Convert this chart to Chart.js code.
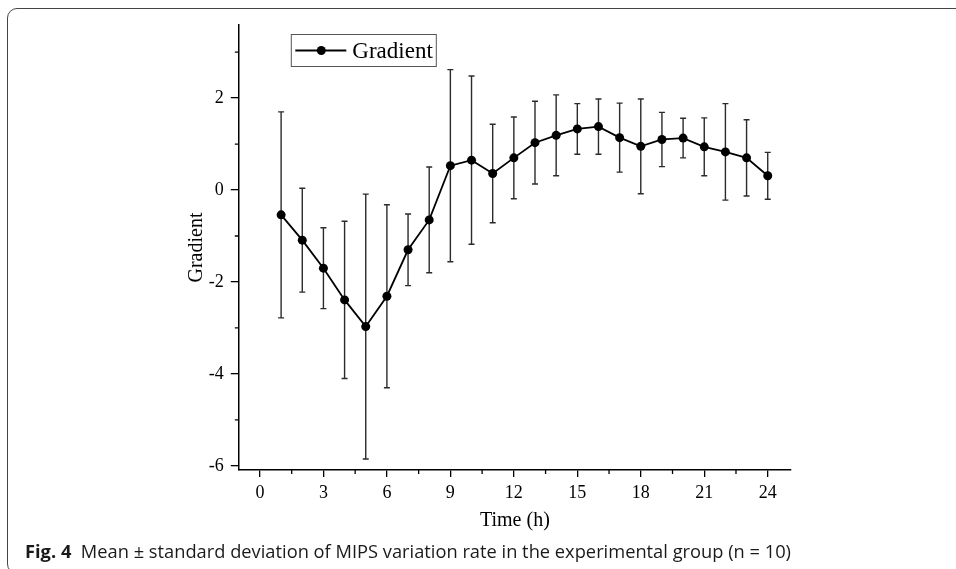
<!DOCTYPE html>
<html>
<head>
<meta charset="utf-8">
<script src="https://cdn.jsdelivr.net/npm/chart.js@4/dist/chart.umd.min.js"></script>
<style>
html,body{margin:0;padding:0;width:956px;height:569px;overflow:hidden;background:#fff;}
#wrap{position:relative;width:956px;height:569px;overflow:hidden;}
#frame{position:absolute;left:7px;top:8px;width:1000px;height:566px;border:1.6px solid #454545;border-radius:10px;box-sizing:border-box;}
#chart{position:absolute;left:0;top:0;}
#caption{position:absolute;left:25px;top:541px;font-family:"Open Sans","Noto Sans",sans-serif;font-size:17.5px;line-height:20px;white-space:nowrap;color:#1a1a1a;transform-origin:0 0;}
#caption b{font-weight:700;}
</style>
</head>
<body>
<div id="wrap">
  <div id="frame"></div>
  <canvas id="chart" width="956" height="569"></canvas>
  <div id="caption"><b>Fig. 4</b>&nbsp; Mean ± standard deviation of MIPS variation rate in the experimental group (n = 10)</div>
</div>
<script>
// ---- data ----
const timeHours = [1,2,3,4,5,6,7,8,9,10,11,12,13,14,15,16,17,18,19,20,21,22,23,24];
const gradientMean = [-0.54,-1.09,-1.70,-2.39,-2.97,-2.31,-1.30,-0.65,0.53,0.65,0.36,0.70,1.03,1.19,1.33,1.38,1.14,0.95,1.10,1.13,0.94,0.83,0.70,0.31];
const gradientSD = [2.24,1.13,0.88,1.71,2.88,1.99,0.78,1.15,2.09,1.83,1.07,0.89,0.90,0.88,0.55,0.60,0.75,1.03,0.59,0.43,0.63,1.05,0.83,0.51];
const xMajorTicks = [0,3,6,9,12,15,18,21,24];
const xMinorTicks = [1.5,4.5,7.5,10.5,13.5,16.5,19.5,22.5];
const yMajorTicks = [-6,-4,-2,0,2];
const yMinorTicks = [-5,-3,-1,1,3];
const seriesName = 'Gradient';
const xTitle = 'Time (h)';
const yTitle = 'Gradient';

// ---- plugins ----
const errorBarPlugin = {
  id: 'errorBars',
  beforeDatasetsDraw(chart) {
    const {ctx, scales: {x, y}} = chart;
    ctx.save();
    ctx.strokeStyle = '#2b2b2b';
    ctx.lineWidth = 1.4;
    timeHours.forEach((t, i) => {
      const px = x.getPixelForValue(t);
      const top = y.getPixelForValue(gradientMean[i] + gradientSD[i]);
      const bot = y.getPixelForValue(gradientMean[i] - gradientSD[i]);
      ctx.beginPath();
      ctx.moveTo(px, top); ctx.lineTo(px, bot);
      ctx.moveTo(px - 3, top); ctx.lineTo(px + 3, top);
      ctx.moveTo(px - 3, bot); ctx.lineTo(px + 3, bot);
      ctx.stroke();
    });
    ctx.restore();
  }
};

const minorTickPlugin = {
  id: 'minorTicks',
  afterDraw(chart) {
    const {ctx, scales: {x, y}, chartArea} = chart;
    ctx.save();
    ctx.strokeStyle = '#000';
    ctx.lineWidth = 1.3;
    ctx.beginPath();
    yMinorTicks.forEach(v => {
      const py = y.getPixelForValue(v);
      ctx.moveTo(chartArea.left - 4, py); ctx.lineTo(chartArea.left, py);
    });
    xMinorTicks.forEach(v => {
      const px = x.getPixelForValue(v);
      ctx.moveTo(px, chartArea.bottom); ctx.lineTo(px, chartArea.bottom + 4);
    });
    ctx.stroke();
    ctx.restore();
  }
};

const boxLegendPlugin = {
  id: 'boxLegend',
  afterDraw(chart) {
    const {ctx, chartArea} = chart;
    const bx = chartArea.left + 52.5, by = chartArea.top + 9.5;
    const bw = 145, bh = 32;
    const cy = by + bh / 2;
    ctx.save();
    ctx.strokeStyle = '#555';
    ctx.lineWidth = 1;
    ctx.strokeRect(bx, by, bw, bh);
    ctx.strokeStyle = '#000';
    ctx.lineWidth = 1.8;
    ctx.beginPath();
    ctx.moveTo(bx + 4, cy); ctx.lineTo(bx + 55, cy);
    ctx.stroke();
    ctx.fillStyle = '#000';
    ctx.beginPath();
    ctx.arc(bx + 30, cy, 4.5, 0, Math.PI * 2);
    ctx.fill();
    ctx.font = '23px "Liberation Serif", "Times New Roman", serif';
    ctx.textBaseline = 'middle';
    ctx.fillText(chart.data.datasets[0].label, bx + 61, cy + 1);
    ctx.restore();
  }
};

const serif = '"Liberation Serif", "Times New Roman", serif';

new Chart(document.getElementById('chart'), {
  type: 'line',
  data: {
    datasets: [{
      label: seriesName,
      data: timeHours.map((t, i) => ({x: t, y: gradientMean[i]})),
      borderColor: '#000',
      borderWidth: 1.8,
      pointRadius: 4.5,
      pointBackgroundColor: '#000',
      pointBorderColor: '#000',
      pointBorderWidth: 0,
      tension: 0,
      clip: false
    }]
  },
  options: {
    responsive: false,
    animation: false,
    devicePixelRatio: 1,
    layout: {padding: {left: 185, top: 25, right: 165, bottom: 36}},
    plugins: {legend: {display: false}, tooltip: {enabled: false}},
    scales: {
      x: {
        type: 'linear',
        min: -1,
        max: 25.1,
        afterBuildTicks: s => { s.ticks = xMajorTicks.map(v => ({value: v})); },
        afterFit: s => { s.height = 569 - 470 - 36; },
        grid: {display: true, drawOnChartArea: false, drawTicks: true, tickLength: 7, color: '#000', lineWidth: 1.3},
        border: {display: true, color: '#000', width: 1.5},
        ticks: {color: '#000', padding: 5, maxRotation: 0, autoSkip: false, font: {family: serif, size: 18}, callback: v => String(v)},
        title: {display: true, text: xTitle, color: '#000', padding: 0, font: {family: serif, size: 20}}
      },
      y: {
        type: 'linear',
        min: -6.09,
        max: 3.59,
        afterBuildTicks: s => { s.ticks = yMajorTicks.map(v => ({value: v})); },
        afterFit: s => { s.width = 238.8 - 185; },
        grid: {display: true, drawOnChartArea: false, drawTicks: true, tickLength: 8, color: '#000', lineWidth: 1.3},
        border: {display: true, color: '#000', width: 1.5},
        ticks: {color: '#000', padding: 7, autoSkip: false, font: {family: serif, size: 18}, callback: v => String(v)},
        title: {display: true, text: yTitle, color: '#000', padding: 0, font: {family: serif, size: 20}}
      }
    }
  },
  plugins: [errorBarPlugin, minorTickPlugin, boxLegendPlugin]
});

// fit caption width to the reference span
const cap = document.getElementById('caption');
const w = cap.getBoundingClientRect().width;
cap.style.transform = 'scaleX(' + (766 / w) + ')';
</script>
</body>
</html>
